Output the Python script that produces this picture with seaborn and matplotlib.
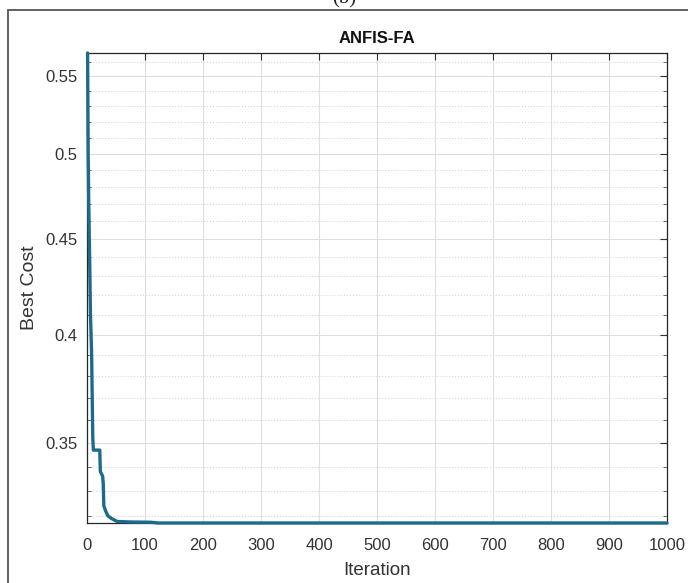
import numpy as np
import pandas as pd
import matplotlib
matplotlib.use("Agg")
import matplotlib.pyplot as plt
from matplotlib.ticker import NullFormatter, FixedLocator, FixedFormatter
from matplotlib.patches import Rectangle
import seaborn as sns

# ---- data ----
iterations = [1, 2, 3, 4, 5, 6, 7, 8, 9, 10, 11, 22, 23, 27, 28, 29, 32, 36, 42, 52, 75, 110, 122, 1000]
best_cost = [0.566, 0.50, 0.47, 0.45, 0.43, 0.41, 0.40, 0.39, 0.37, 0.352, 0.347, 0.347, 0.338,
             0.336, 0.333, 0.324, 0.322, 0.320, 0.319, 0.3178, 0.3176, 0.3175, 0.3172, 0.3172]
x_ticks = [0, 100, 200, 300, 400, 500, 600, 700, 800, 900, 1000]
y_ticks = [0.35, 0.4, 0.45, 0.5, 0.55]
y_tick_labels = ["0.35", "0.4", "0.45", "0.5", "0.55"]
y_minor = [0.32, 0.33, 0.34, 0.36, 0.37, 0.38, 0.39, 0.41, 0.42, 0.43, 0.44,
           0.46, 0.47, 0.48, 0.49, 0.51, 0.52, 0.53, 0.54, 0.56]
title = "ANFIS-FA"
panel = "(b)"

df = pd.DataFrame({"Iteration": iterations, "Best Cost": best_cost})

sns.set_theme(style="white")
plt.rcParams["font.family"] = ["Liberation Sans", "DejaVu Sans"]

W, H = 688, 583
fig = plt.figure(figsize=(W / 100, H / 100), dpi=100)
ax = fig.add_axes([87 / W, 1 - 523 / H, (667 - 87) / W, (523 - 53) / H])

sns.lineplot(data=df, x="Iteration", y="Best Cost", ax=ax, color="#1c6a8c",
             linewidth=2.4, estimator=None, sort=False, zorder=5)
ax.lines[0].set_clip_on(False)

ax.set_yscale("log")
ax.set_xlim(0, 1000)
ax.set_ylim(0.3172, 0.566)

ax.xaxis.set_major_locator(FixedLocator(x_ticks))
ax.set_xticklabels([str(t) for t in x_ticks])
ax.yaxis.set_major_locator(FixedLocator(y_ticks))
ax.yaxis.set_major_formatter(FixedFormatter(y_tick_labels))
ax.yaxis.set_minor_locator(FixedLocator(y_minor))
ax.yaxis.set_minor_formatter(NullFormatter())
ax.xaxis.set_minor_locator(FixedLocator([]))

ax.grid(True, which="major", color="#dedede", linewidth=0.8, linestyle="-")
ax.grid(True, which="minor", axis="y", color="#d0d0d0", linewidth=0.7, linestyle=(0, (1, 2)))
ax.set_axisbelow(True)

ax.tick_params(axis="both", which="major", direction="in", length=5, width=0.8,
               top=True, right=True, labelsize=12, labelcolor="#333333", color="#333333")
ax.tick_params(axis="x", which="major", pad=11)
ax.tick_params(axis="y", which="major", pad=7)
ax.tick_params(axis="y", which="minor", direction="in", length=3, width=0.6,
               left=True, right=True, color="#555555")
ax.tick_params(axis="x", which="minor", length=0)
for s in ax.spines.values():
    s.set_color("#262626")
    s.set_linewidth(0.9)

ax.set_xlabel("Iteration", fontsize=13.5, color="#333333", labelpad=6)
ax.set_ylabel("Best Cost", fontsize=14, color="#333333", labelpad=5)
ax.set_title(title, fontsize=12, fontweight="bold", color="#111111", pad=7)

# outer frame and panel label
fig.patches.append(Rectangle((8 / W, -0.01), 1.0, 1 - 10 / H + 0.01, transform=fig.transFigure,
                             fill=False, edgecolor="#555555", linewidth=1.3))
fig.text(0.5, 1 - 8 / H, panel, ha="center", va="bottom", fontsize=15,
         family=["Liberation Serif", "DejaVu Serif"], color="#222222")

fig.savefig("out.png", dpi=100)
